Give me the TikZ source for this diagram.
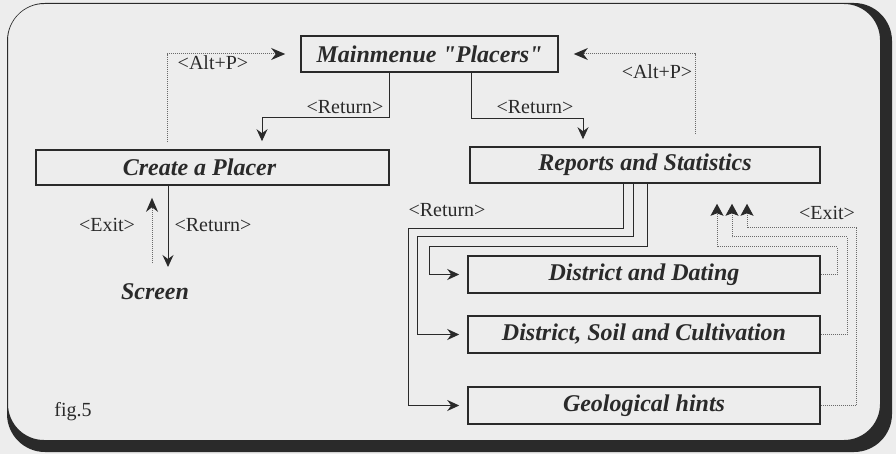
\documentclass[tikz,border=0pt]{standalone}
\usepackage{fontspec}
\setmainfont{Liberation Serif}[Ligatures=TeXOff]
\usetikzlibrary{arrows.meta}
\definecolor{ink}{HTML}{2A2A2A}
\definecolor{dots}{HTML}{6A6A6A}
\definecolor{paper}{HTML}{EDEDED}
\begin{document}
\begin{tikzpicture}[x=1pt,y=-1pt,
  box/.style={draw=ink, line width=1.6pt, inner sep=0pt, text=ink,
    font=\fontsize{24}{28}\selectfont\bfseries\itshape},
  wide/.style={minimum width=352pt, minimum height=37pt},
  lbl/.style={font=\fontsize{20}{23}\selectfont, text=ink, inner sep=0pt},
  retline/.style={draw=ink, line width=1pt, -{Stealth[length=12pt,width=11pt,inset=4pt]}},
  altline/.style={draw=dots, line width=1pt, densely dotted, -{Stealth[length=14pt,width=12pt,inset=4.5pt,color=ink]}},
  exitline/.style={draw=dots, line width=1pt, densely dotted, -{Stealth[length=12pt,width=13pt,inset=2.5pt,color=ink]}},
]
\useasboundingbox (0,0) rectangle (896,454);
\fill[paper] (0,0) rectangle (896,454);
\fill[ink, even odd rule] [rounded corners=38pt] (7,3) rectangle (892,452)
  [rounded corners=36pt] (8,4) rectangle (880,440);

% boxes
\node[box, minimum width=257pt, minimum height=36pt] (main) at (429.5,54) {Mainmenue "Placers"};
\node[box, minimum width=353pt, minimum height=35pt] (create) at (212.5,167.5) {Create a Placer\hspace*{26pt}};
\node[box, minimum width=350pt, minimum height=36pt] (reports) at (645,165) {Reports and Statistics};
\node[box, wide] (dd) at (644,274.5) {District and Dating};
\node[box, wide] (dsc) at (644,334.5) {District, Soil and Cultivation};
\node[box, wide] (gh) at (644,405.5) {Geological hints};
\node[text=ink, font=\fontsize{24}{28}\selectfont\bfseries\itshape] (screen) at (155,292) {Screen};
\node[lbl, font=\fontsize{20}{24}\selectfont] (fig) at (73,412) {fig.5};

% labels
\node[lbl] (l1) at (213,63) {<Alt+P>};
\node[lbl] (l2) at (345,107) {<Return>};
\node[lbl] (l3) at (535,107) {<Return>};
\node[lbl] (l4) at (657,72) {<Alt+P>};
\node[lbl] (l5) at (107,225) {<Exit>};
\node[lbl] (l6) at (213,225) {<Return>};
\node[lbl] (l7) at (447,210) {<Return>};
\node[lbl] (l8) at (827,213) {<Exit>};

% coordinates
\coordinate (s1) at (168,267);
\coordinate (s2) at (152,263);
\coordinate (r1) at (408,229);
\coordinate (r2) at (417,237);
\coordinate (r3) at (429,247);
\coordinate (x1) at (837,247);
\coordinate (x2) at (847,237);
\coordinate (x3) at (856,228);

% main menu connectors
\draw[altline, shorten <=7pt, shorten >=15pt] ([xshift=-45.5pt]create.north) |- (main.west);
\draw[retline, shorten >=8pt] ([xshift=-40.5pt]main.south) -- ++(0,45) -| ([xshift=49.5pt]create.north);
\draw[retline, shorten >=7pt] ([xshift=41.5pt]main.south) -- ++(0,46) -| ([xshift=-62pt]reports.north);
\draw[altline, shorten <=12pt, shorten >=15pt] ([xshift=50pt]reports.north) |- (main.east);

% create a placer / screen
\draw[retline] ([xshift=-44.5pt]create.south) -- (s1);
\draw[altline, shorten >=12pt] (s2) -- (s2 |- create.south);

% reports submenus
\draw[retline, shorten >=8pt] ([xshift=-22pt]reports.south) |- (r1) |- (gh.west);
\draw[retline, shorten >=8pt] ([xshift=-12pt]reports.south) |- (r2) |- (dsc.west);
\draw[retline, shorten >=8pt] ([xshift=2pt]reports.south) |- (r3) |- (dd.west);

% exits
\draw[exitline, shorten >=20pt] (dd.east) -| (x1) -| ([xshift=72pt]reports.south);
\draw[exitline, shorten >=20pt] (dsc.east) -| (x2) -| ([xshift=87pt]reports.south);
\draw[exitline, shorten >=20pt] (gh.east) -| (x3) -| ([xshift=102pt]reports.south);
\end{tikzpicture}
\end{document}
